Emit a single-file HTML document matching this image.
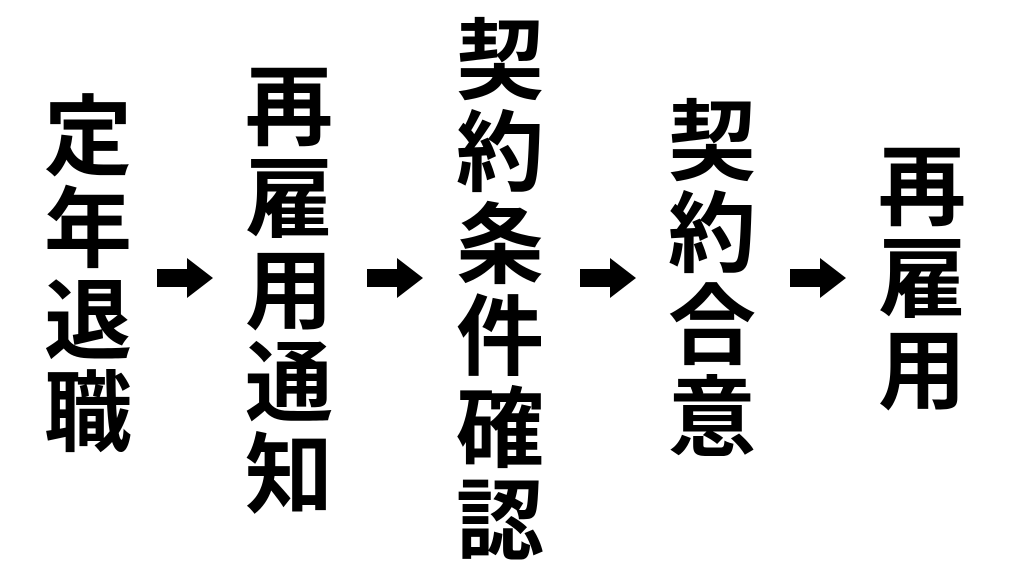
<!DOCTYPE html>
<html><head><meta charset="utf-8"><style>
html,body{margin:0;padding:0;background:#fff;width:1024px;height:576px;overflow:hidden;position:relative}
.c{position:absolute;width:110px;text-align:center;font-family:"Liberation Sans","Noto Sans CJK JP",sans-serif;font-weight:700;font-size:88px;line-height:92px;color:#000}
svg{position:absolute}
</style></head><body>
<div class="c" style="left:33px;top:92px">定<br>年<br>退<br>職</div>
<div class="c" style="left:234px;top:62px">再<br>雇<br>用<br>通<br>知</div>
<div class="c" style="left:445px;top:16px">契<br>約<br>条<br>件<br>確<br>認</div>
<div class="c" style="left:657px;top:97px">契<br>約<br>合<br>意</div>
<div class="c" style="left:867px;top:142px">再<br>雇<br>用</div>
<svg width="1024" height="576" style="left:0;top:0">
<defs><path id="a" d="M0,-9 H30 V-20 L56,0 L30,20 V9 H0 Z" fill="#000"/></defs>
<use href="#a" x="157" y="278"/>
<use href="#a" x="367" y="278"/>
<use href="#a" x="580" y="278"/>
<use href="#a" x="790" y="278"/>
</svg>
</body></html>
